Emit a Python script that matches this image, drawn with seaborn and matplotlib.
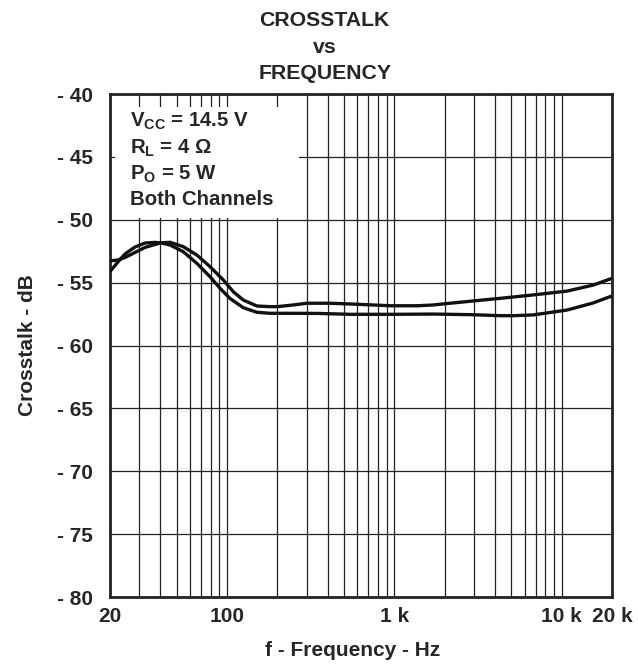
import numpy as np
import pandas as pd
import seaborn as sns
import matplotlib
matplotlib.use('Agg')
import matplotlib.pyplot as plt
from matplotlib import ticker
from matplotlib.patches import Rectangle

# Curve values (frequency in Hz, crosstalk in dB)
freq_a = [20, 22.3, 24.6, 28.2, 32.4, 39.8, 45.7, 54.8, 66, 79.2, 95.1, 109, 125, 151, 181,
          200, 248, 300, 413, 600, 950, 1370, 1700, 2150, 2950, 4290, 6750, 10800, 15400, 20000]
xtalk_a = [-53.28, -53.2, -53.0, -52.6, -52.2, -51.85, -51.79, -52.14, -52.8, -53.73, -54.79,
           -55.72, -56.38, -56.86, -56.91, -56.91, -56.78, -56.64, -56.64, -56.72, -56.84,
           -56.84, -56.78, -56.64, -56.46, -56.25, -55.98, -55.67, -55.2, -54.66]

freq_b = [20, 22.3, 24.6, 28.2, 32.4, 37.2, 41, 45.7, 54.8, 66, 79.2, 90.9, 104, 125, 151,
          181, 248, 350, 544, 1000, 1700, 2950, 4290, 5130, 6750, 8890, 10780, 15400, 20000]
xtalk_b = [-54.12, -53.36, -52.72, -52.17, -51.85, -51.8, -51.86, -52.01, -52.54, -53.46,
           -54.53, -55.45, -56.25, -56.99, -57.36, -57.44, -57.44, -57.45, -57.52, -57.52,
           -57.5, -57.55, -57.63, -57.63, -57.57, -57.34, -57.18, -56.62, -56.06]

x_ticks = [20, 100, 1000, 10000, 20000]
x_labels = ['20', '100', '1 k', '10 k', '20 k']
y_ticks = [-80, -75, -70, -65, -60, -55, -50, -45, -40]
y_labels = ['- 80', '- 75', '- 70', '- 65', '- 60', '- 55', '- 50', '- 45', '- 40']

notes = [r'V$_\mathregular{CC}$ = 14.5 V', r'R$_\mathregular{L}$ = 4 Ω',
         r'P$_\mathregular{O}$ = 5 W', 'Both Channels']

sns.set_style('white')
plt.rcParams['font.family'] = ['Liberation Sans', 'DejaVu Sans']
plt.rcParams['font.weight'] = 'bold'
plt.rcParams['font.size'] = 15

fig = plt.figure(figsize=(6.38, 6.65), dpi=100)
ax = fig.add_axes([110 / 638, 68 / 665, 502 / 638, 503 / 665])
ax.set_xscale('log')

df_a = pd.DataFrame({'f': freq_a, 'dB': xtalk_a})
df_b = pd.DataFrame({'f': freq_b, 'dB': xtalk_b})
for df in (df_a, df_b):
    sns.lineplot(data=df, x='f', y='dB', ax=ax, color='#111111', lw=2.4, sort=False,
                 zorder=5, solid_joinstyle='round', solid_capstyle='round')

ax.set_xlim(20, 20000)
ax.set_ylim(-80, -40)
ax.set_xticks(x_ticks)
ax.set_xticklabels(x_labels)
ax.xaxis.set_minor_locator(ticker.LogLocator(base=10, subs=np.arange(2, 10)))
ax.xaxis.set_minor_formatter(ticker.NullFormatter())
ax.set_yticks(y_ticks)
ax.set_yticklabels(y_labels)
ax.tick_params(which='both', length=0, labelsize=15)
ax.tick_params(axis='x', pad=7)
ax.tick_params(axis='y', pad=12)

ax.grid(which='both', axis='x', color='#222222', lw=0.9)
ax.grid(which='major', axis='y', color='#222222', lw=0.9)
for s in ax.spines.values():
    s.set_color('#222222')
    s.set_linewidth(2)

ax.set_xlabel('f - Frequency - Hz', fontsize=15, fontweight='bold', labelpad=11)
ax.xaxis.label.set_x(0.484)
ax.set_ylabel('Crosstalk - dB', fontsize=15, fontweight='bold', labelpad=15)

# white box behind the conditions text
ax.add_patch(Rectangle((0.01, 0.7535), 0.366, 0.2205, transform=ax.transAxes,
                       facecolor='white', edgecolor='none', zorder=3))
for i, line in enumerate(notes):
    ax.text(0.04, 0.934 - i * 0.0517, line, transform=ax.transAxes, fontsize=14.7,
            fontweight='bold', va='baseline', ha='left', zorder=4)

fig.text(0.509, 0.929, 'CROSSTALK\nvs\nFREQUENCY', ha='center', va='center',
         fontsize=15.3, fontweight='bold', linespacing=1.5)

fig.savefig('out.png', dpi=100)
